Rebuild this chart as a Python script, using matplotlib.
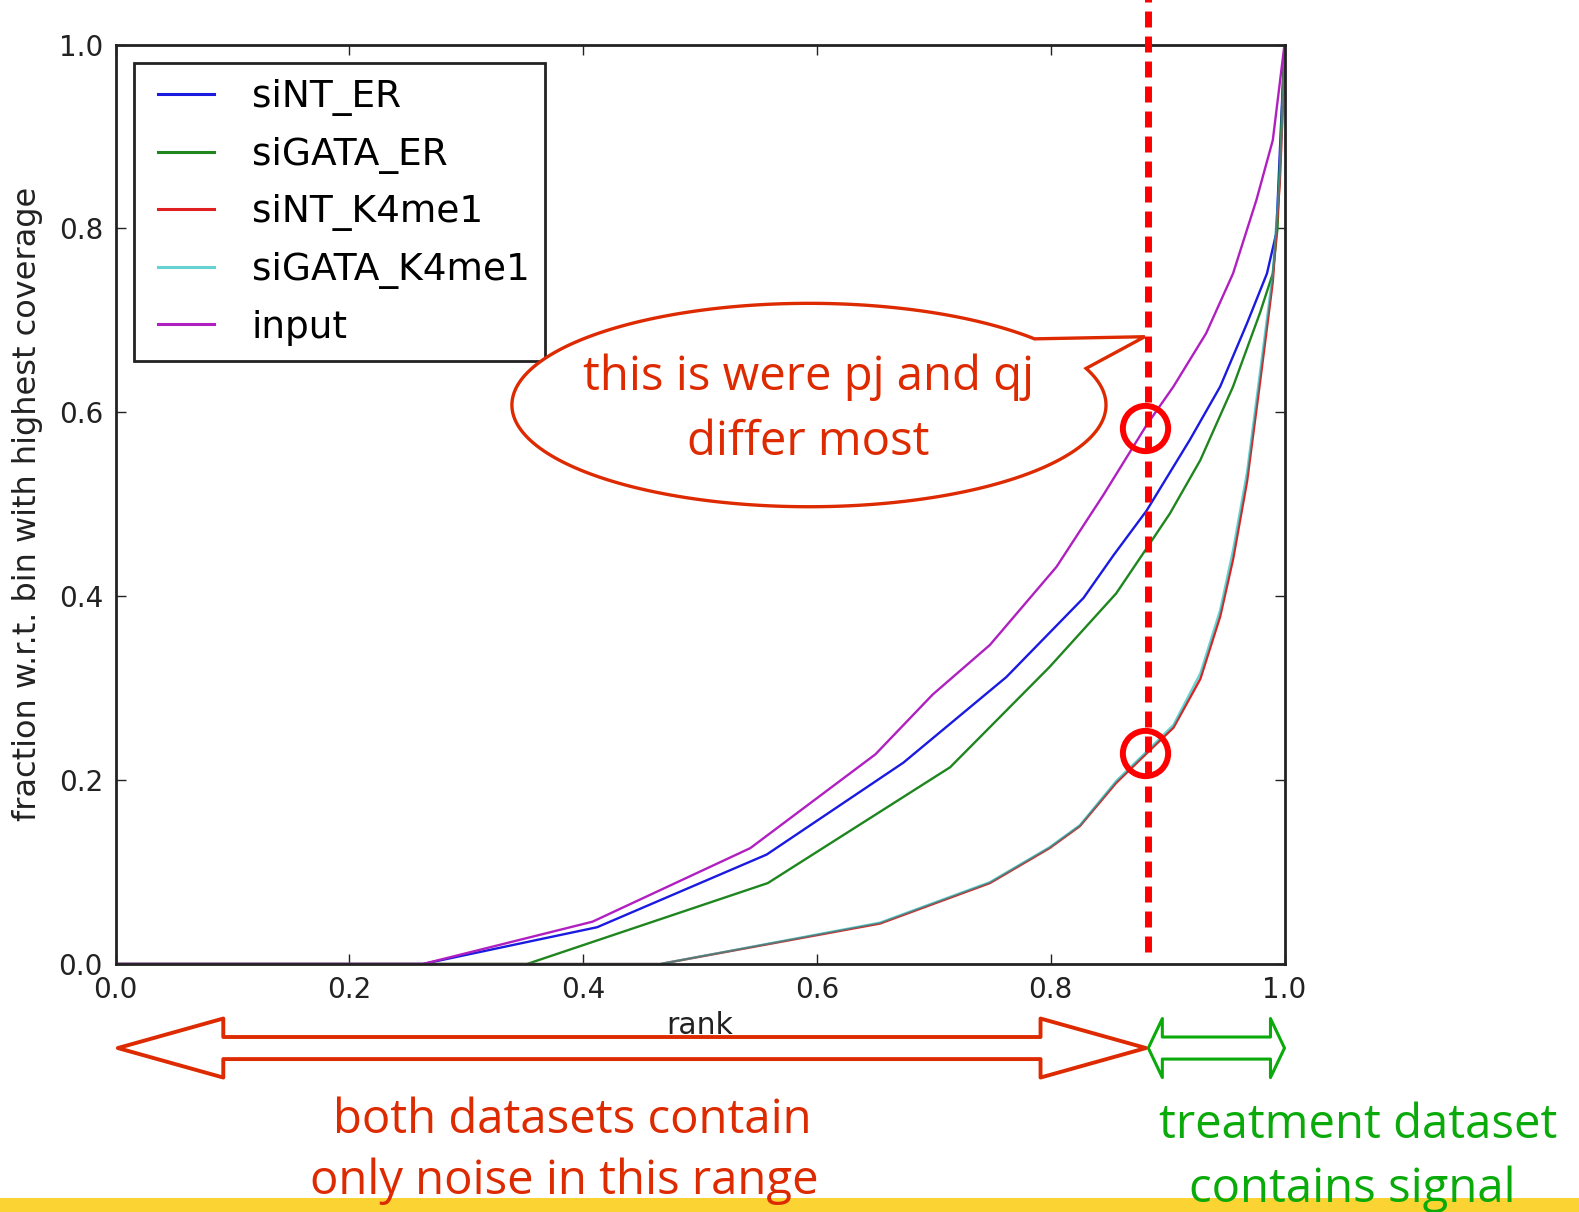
import numpy as np
import matplotlib.pyplot as plt
from matplotlib.lines import Line2D
from matplotlib.legend_handler import HandlerLine2D
from matplotlib.patches import Polygon, Rectangle

# cumulative coverage curves, one per dataset
rank_sint_er = [0, 0.263, 0.412, 0.557, 0.674, 0.762, 0.828, 0.854, 0.882, 0.919, 0.945, 0.968, 0.985, 0.993, 1.0]
frac_sint_er = [0, 0, 0.040, 0.119, 0.219, 0.312, 0.398, 0.445, 0.493, 0.570, 0.628, 0.697, 0.751, 0.795, 1.0]

rank_sigata_er = [0, 0.352, 0.558, 0.714, 0.799, 0.856, 0.882, 0.902, 0.928, 0.956, 0.979, 0.990, 0.994, 1.0]
frac_sigata_er = [0, 0, 0.088, 0.214, 0.323, 0.403, 0.452, 0.490, 0.548, 0.628, 0.708, 0.751, 0.800, 1.0]

rank_sint_k4 = [0, 0.466, 0.654, 0.748, 0.799, 0.825, 0.856, 0.882, 0.905, 0.928, 0.945, 0.956, 0.968, 0.979, 0.990, 0.996, 0.999, 1.0]
frac_sint_k4 = [0, 0, 0.044, 0.088, 0.126, 0.150, 0.197, 0.229, 0.257, 0.310, 0.378, 0.440, 0.525, 0.632, 0.742, 0.850, 0.945, 1.0]

rank_sigata_k4 = [0, 0.466, 0.654, 0.748, 0.799, 0.825, 0.856, 0.882, 0.905, 0.928, 0.945, 0.956, 0.968, 0.979, 0.990, 0.996, 0.999, 1.0]
frac_sigata_k4 = [0, 0, 0.045, 0.089, 0.127, 0.151, 0.199, 0.231, 0.260, 0.316, 0.385, 0.450, 0.535, 0.643, 0.751, 0.860, 0.950, 1.0]

rank_input = [0, 0.263, 0.408, 0.543, 0.650, 0.699, 0.748, 0.805, 0.845, 0.882, 0.905, 0.933, 0.956, 0.976, 0.990, 1.0]
frac_input = [0, 0, 0.046, 0.126, 0.228, 0.293, 0.347, 0.432, 0.510, 0.586, 0.628, 0.686, 0.751, 0.831, 0.896, 1.0]

tick_vals = [0.0, 0.2, 0.4, 0.6, 0.8, 1.0]
tick_labels = ['0.0', '0.2', '0.4', '0.6', '0.8', '1.0']

split_rank = 0.8835   # where pj and qj differ most
ann_red = '#dd2a00'
ann_green = '#0aaa0a'

fig = plt.figure(figsize=(15.79, 12.12), dpi=100)
ax = fig.add_axes([115.5 / 1579, 248 / 1212, 1169 / 1579, 919.5 / 1212])

ax.plot(rank_sint_er, frac_sint_er, color='#1a1ae0', lw=1.7, label='siNT_ER')
ax.plot(rank_sigata_er, frac_sigata_er, color='#1f861f', lw=1.7, label='siGATA_ER')
ax.plot(rank_sint_k4, frac_sint_k4, color='#e02020', lw=1.7, label='siNT_K4me1')
ax.plot(rank_sigata_k4, frac_sigata_k4, color='#00b5b5', lw=1.7, alpha=0.6, label='siGATA_K4me1')
ax.plot(rank_input, frac_input, color='#b020c0', lw=1.7, label='input')

ax.set_xlim(0, 1)
ax.set_ylim(0, 1)
ax.set_xticks(tick_vals)
ax.set_xticklabels(tick_labels)
ax.set_yticks(tick_vals)
ax.set_yticklabels(tick_labels)
ax.tick_params(direction='in', top=True, right=True, length=7, width=1,
               labelsize=20, pad=9, colors='#222222')
for s in ax.spines.values():
    s.set_linewidth(2)
    s.set_color('#222222')
ax.set_xlabel('rank', fontsize=21.5, labelpad=5, color='#222222')
ax.set_ylabel('fraction w.r.t. bin with highest coverage', fontsize=23, labelpad=11, color='#222222')

leg = ax.legend(loc='upper left', bbox_to_anchor=(0.0158, 0.9796), fontsize=27,
                handlelength=1.72, handletextpad=1.0, borderpad=0.42, labelspacing=0.55,
                borderaxespad=0, fancybox=False, framealpha=1,
                handler_map={Line2D: HandlerLine2D(xpad=0.22)})
leg.get_frame().set_edgecolor('#222222')
leg.get_frame().set_linewidth(2)
for h in leg.get_lines():
    h.set_linewidth(2.2)

# speech bubble pointing at the split
cx, cy, a, b = 0.5932, 0.6079, 0.2541, 0.1106
t = np.radians(np.linspace(40.6, 360 + 21.1, 300))
bx = list(cx + a * np.cos(t)) + [split_rank - 0.003]
by = list(cy + b * np.sin(t)) + [0.6822]
ax.add_patch(Polygon(np.column_stack([bx, by]), closed=True, fc='white', ec=ann_red,
                     lw=2.4, clip_on=False, zorder=6))
ax.text(0.5924, 0.6242, 'this is were pj and qj', fontsize=34, family='Open Sans',
        color=ann_red, ha='center', va='baseline', zorder=7)
ax.text(0.5924, 0.5536, 'differ most', fontsize=34, family='Open Sans',
        color=ann_red, ha='center', va='baseline', zorder=7)

# dashed split line and circles on the curves
ax.plot([split_rank, split_rank], [0.0134, 1.05], color='#ff0000', lw=5,
        ls=(0, (2.3, 1.3)), clip_on=False, zorder=8)
circ_x = 0.8807
for rk, fr in [(rank_input, frac_input), (rank_sigata_k4, frac_sigata_k4)]:
    ax.plot([circ_x], [np.interp(circ_x, rk, fr)], 'o', ms=32.6, mfc='none',
            mec='#ff0000', mew=4.3, clip_on=False, zorder=9)


def double_arrow(x0, x1, yc, head_len, head_h, body_h, color, lw):
    pts = [(x0, yc), (x0 + head_len, yc + head_h), (x0 + head_len, yc + body_h),
           (x1 - head_len, yc + body_h), (x1 - head_len, yc + head_h), (x1, yc),
           (x1 - head_len, yc - head_h), (x1 - head_len, yc - body_h),
           (x0 + head_len, yc - body_h), (x0 + head_len, yc - head_h)]
    ax.add_patch(Polygon(pts, closed=True, fc='none', ec=color, lw=lw,
                         joinstyle='round', clip_on=False, zorder=6))


double_arrow(0.002, split_rank - 0.002, -0.0914, 0.0902, 0.0321, 0.012, ann_red, 2.8)
double_arrow(split_rank, 1.0, -0.0914, 0.012, 0.0321, 0.012, ann_green, 2.2)

ax.text(0.3905, -0.1838, 'both datasets contain', fontsize=34, family='Open Sans',
        color=ann_red, ha='center', va='baseline', clip_on=False)
ax.text(0.3837, -0.2505, 'only noise in this range', fontsize=34, family='Open Sans',
        color=ann_red, ha='center', va='baseline', clip_on=False)
ax.text(1.0629, -0.1892, 'treatment dataset', fontsize=34, family='Open Sans',
        color=ann_green, ha='center', va='baseline', clip_on=False)
ax.text(1.0577, -0.2585, 'contains signal', fontsize=34, family='Open Sans',
        color=ann_green, ha='center', va='baseline', clip_on=False)

# yellow strip along the bottom edge
fig.add_artist(Rectangle((0, 0), 1, 14 / 1212, transform=fig.transFigure,
                         fc='#fbd433', ec='none', zorder=-1))

fig.savefig('out.png', dpi=100)
